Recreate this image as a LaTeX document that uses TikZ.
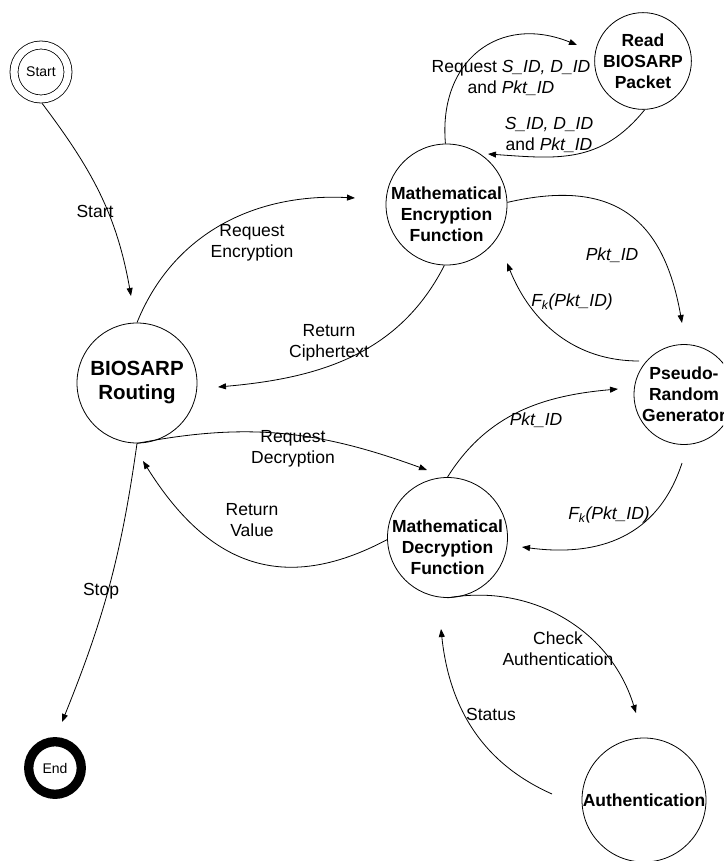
\documentclass[tikz,border=0pt]{standalone}
\usepackage{fontspec}
\setmainfont{Liberation Sans}
\usetikzlibrary{arrows.meta}

\begin{document}
\begin{tikzpicture}[
  x=1pt, y=1pt,
  state/.style={circle, draw, line width=0.8pt, inner sep=0pt, align=center,
    font=\fontsize{17.5}{21}\selectfont\bfseries},
  fn/.style={align=center, inner sep=0pt,
    font=\fontsize{17.5}{21}\selectfont\bfseries},
  lbl/.style={align=center, inner sep=0pt,
    font=\fontsize{17.5}{21}\selectfont},
  arrow/.style={-{Triangle[length=8pt,width=6pt]}, line width=0.8pt},
]
\clip (0,0) rectangle (723,-861);

% Start and end states
\node[circle, draw, line width=0.8pt, double, double distance=7.2pt,
  minimum size=54pt, inner sep=0pt, outer sep=4.4pt,
  font=\fontsize{14}{16}\selectfont] (start) at (41,-72) {Start};
\node[circle, draw, line width=9.3pt, minimum size=52.6pt, inner sep=0pt,
  font=\fontsize{14}{16}\selectfont] (end) at (55,-768) {End};

% Process states
\node[state, minimum size=120pt, font=\fontsize{20.5}{24}\selectfont\bfseries]
  (routing) at (137,-383) {BIOSARP\\Routing};
\node[state, minimum size=121pt,
  label={[fn, yshift=-10pt]center:Mathematical\\Encryption\\Function}]
  (enc) at (446.5,-204.5) {};
\node[state, minimum size=90pt] (read) at (643,-61) {Read\\BIOSARP\\Packet};
\node[state, minimum size=94pt] (prg) at (684,-394.5) {Pseudo-\\Random\\Generator};
\node[state, minimum size=120pt,
  label={[fn, yshift=-10pt]center:Mathematical\\Decryption\\Function}]
  (dec) at (447.5,-537.5) {};
\node[state, minimum size=124pt] (auth) at (644,-800) {Authentication};

% Free ends of the connectors
\coordinate (tip-start) at (131,-296);
\coordinate (tip-reqenc) at (355,-198);
\coordinate (tip-retciph) at (218,-387);
\coordinate (tip-reqid) at (577,-45);
\coordinate (tip-retid) at (488,-154);
\coordinate (tip-pktenc) at (682,-323);
\coordinate (src-fkenc) at (639,-361);
\coordinate (tip-fkenc) at (507,-263);
\coordinate (tip-reqdec) at (427,-470);
\coordinate (tip-retval) at (143,-461);
\coordinate (tip-pktdec) at (618,-389);
\coordinate (src-fkdec) at (682,-463);
\coordinate (tip-fkdec) at (522,-547);
\coordinate (tip-stop) at (62,-722);
\coordinate (tip-check) at (636,-713);
\coordinate (src-status) at (552,-794);
\coordinate (tip-status) at (441,-629);

% Connectors
\draw[arrow] (start.-88) to[out=-53, in=100] (tip-start);
\draw[arrow] (routing.90) to[out=68, in=177] (tip-reqenc);
\draw[arrow] (enc.-92) to[out=-117, in=5] (tip-retciph);
\draw[arrow] (enc.91) to[out=95, in=158, looseness=1.3] (tip-reqid);
\draw[arrow] (read.-88) to[out=-129, in=-4, looseness=1.1] (tip-retid);
\draw[arrow] (enc.2) to[out=13, in=100, looseness=1.3] (tip-pktenc);
\draw[arrow] (src-fkenc) to[out=180, in=-68] (tip-fkenc);
\draw[arrow] (routing.-90) to[out=11, in=160] (tip-reqdec);
\draw[arrow] (dec.182) to[out=208, in=-58, looseness=1.2] (tip-retval);
\draw[arrow] (dec.90) to[out=58, in=185] (tip-pktdec);
\draw[arrow] (src-fkdec) to[out=-108, in=-7.5, looseness=1.1] (tip-fkdec);
\draw[arrow] (routing.-90) to[out=-98, in=68] (tip-stop);
\draw[arrow] (dec.-90) to[out=10, in=107] (tip-check);
\draw[arrow] (src-status) to[out=156, in=-84] (tip-status);

% Connector labels
\node[lbl] (l-start) at (95,-211) {Start};
\node[lbl] (l-reqenc) at (252,-243) {Request\\Encryption};
\node[lbl] (l-retciph) at (329,-343) {Return\\Ciphertext};
\node[lbl] (l-reqid) at (511,-78) {Request \textit{S\_ID, D\_ID}\\and \textit{Pkt\_ID}};
\node[lbl] (l-retid) at (549,-135) {\textit{S\_ID, D\_ID}\\and \textit{Pkt\_ID}};
\node[lbl] (l-pktenc) at (612,-255) {\textit{Pkt\_ID}};
\node[lbl] (l-fkenc) at (572,-302) {\textit{F\textsubscript{k}(Pkt\_ID)}};
\node[lbl] (l-reqdec) at (293,-449) {Request\\Decryption};
\node[lbl] (l-retval) at (252,-520) {Return\\Value};
\node[lbl] (l-pktdec) at (536,-420) {\textit{Pkt\_ID}};
\node[lbl] (l-fkdec) at (609,-515) {\textit{F\textsubscript{k}(Pkt\_ID)}};
\node[lbl] (l-stop) at (101,-591) {Stop};
\node[lbl] (l-check) at (558,-649) {Check\\Authentication};
\node[lbl] (l-status) at (491,-714) {Status};
\end{tikzpicture}
\end{document}
